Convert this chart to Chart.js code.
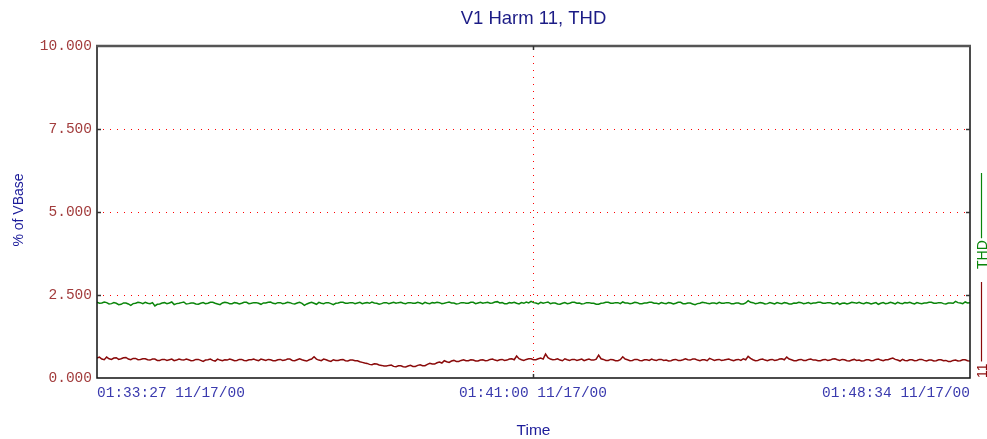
<!DOCTYPE html>
<html><head><meta charset="utf-8">
<script src="https://cdn.jsdelivr.net/npm/chart.js@4"></script>
<style>html,body{margin:0;padding:0;background:#fff;overflow:hidden}#wrap{width:987px;height:439px;position:relative}</style>
</head><body><div id="wrap"><canvas id="c" width="987" height="439"></canvas></div>
<script>
const chartTitle = "V1 Harm 11, THD";
const yAxisTitle = "% of VBase";
const xAxisTitle = "Time";
const yTicks = [0, 2.5, 5, 7.5, 10];
const xTickSeconds = [0, 453, 907];
const xTickLabels = ["01:33:27 11/17/00", "01:41:00 11/17/00", "01:48:34 11/17/00"];
const seriesNames = ["THD", "11"];
const spanSeconds = 907;
const thdValues = [
2.28,2.25,2.26,2.29,2.27,2.23,2.24,2.27,2.25,2.21,2.22,2.26,2.26,2.23,2.19,2.24,2.25,2.28,2.27,2.24,
2.28,2.25,2.24,2.27,2.17,2.22,2.23,2.26,2.27,2.24,2.26,2.29,2.21,2.24,2.25,2.27,2.29,2.23,2.24,2.26,
2.26,2.23,2.22,2.25,2.27,2.24,2.25,2.28,2.28,2.25,2.23,2.21,2.26,2.28,2.27,2.24,2.24,2.27,2.26,2.23,
2.25,2.28,2.28,2.24,2.25,2.27,2.27,2.25,2.22,2.26,2.26,2.28,2.29,2.25,2.24,2.27,2.27,2.24,2.25,2.28,
2.27,2.24,2.23,2.26,2.28,2.25,2.19,2.23,2.26,2.28,2.25,2.22,2.28,2.25,2.24,2.27,2.27,2.24,2.21,2.25,
2.26,2.28,2.28,2.25,2.25,2.27,2.27,2.24,2.26,2.28,2.24,2.26,2.27,2.25,2.29,2.26,2.25,2.22,2.24,2.27,
2.27,2.24,2.26,2.28,2.25,2.27,2.28,2.25,2.24,2.27,2.27,2.25,2.25,2.28,2.26,2.23,2.28,2.25,2.24,2.27,
2.26,2.28,2.27,2.24,2.25,2.27,2.29,2.26,2.26,2.23,2.24,2.27,2.27,2.25,2.25,2.28,2.28,2.24,2.26,2.28,
2.25,2.27,2.28,2.25,2.26,2.29,2.30,2.26,2.27,2.24,2.24,2.27,2.26,2.28,2.25,2.23,2.27,2.25,2.29,2.26,
2.31,2.27,2.26,2.23,2.28,2.25,2.27,2.29,2.24,2.26,2.26,2.23,2.22,2.25,2.27,2.24,2.25,2.28,2.28,2.25,
2.26,2.23,2.24,2.27,2.27,2.25,2.25,2.22,2.22,2.25,2.26,2.28,2.28,2.25,2.25,2.27,2.27,2.24,2.29,2.26,
2.26,2.24,2.25,2.28,2.27,2.24,2.24,2.26,2.26,2.28,2.28,2.25,2.25,2.23,2.27,2.25,2.24,2.27,2.26,2.23,
2.25,2.28,2.28,2.24,2.24,2.26,2.26,2.23,2.21,2.24,2.25,2.28,2.27,2.25,2.24,2.26,2.26,2.24,2.28,2.25,
2.25,2.27,2.27,2.24,2.24,2.26,2.26,2.23,2.23,2.26,2.33,2.28,2.27,2.24,2.25,2.27,2.26,2.23,2.24,2.27,
2.25,2.23,2.27,2.25,2.24,2.27,2.26,2.23,2.23,2.26,2.25,2.28,2.27,2.24,2.25,2.27,2.24,2.26,2.26,2.28,
2.28,2.25,2.25,2.27,2.27,2.24,2.24,2.27,2.22,2.25,2.26,2.23,2.25,2.28,2.27,2.25,2.28,2.25,2.24,2.27,
2.26,2.23,2.25,2.27,2.22,2.25,2.27,2.24,2.25,2.28,2.26,2.23,2.28,2.25,2.24,2.27,2.26,2.28,2.25,2.23,
2.27,2.25,2.24,2.26,2.26,2.28,2.28,2.25,2.25,2.27,2.27,2.24,2.23,2.26,2.26,2.25,2.31,2.27,2.26,2.24,
2.29,2.26,2.27
];
const harm11Values = [
0.60,0.63,0.57,0.55,0.63,0.58,0.56,0.60,0.61,0.56,0.58,0.61,0.62,0.57,0.55,0.59,0.59,0.55,0.56,0.58,
0.58,0.55,0.54,0.57,0.57,0.53,0.53,0.56,0.56,0.53,0.55,0.57,0.52,0.54,0.57,0.55,0.54,0.57,0.55,0.52,
0.53,0.56,0.56,0.53,0.50,0.54,0.55,0.57,0.53,0.51,0.57,0.54,0.52,0.55,0.54,0.57,0.55,0.52,0.53,0.56,
0.56,0.53,0.52,0.55,0.55,0.57,0.54,0.52,0.57,0.55,0.53,0.56,0.55,0.52,0.52,0.55,0.56,0.53,0.54,0.57,
0.57,0.53,0.52,0.55,0.58,0.55,0.53,0.51,0.55,0.57,0.64,0.57,0.54,0.52,0.57,0.55,0.52,0.50,0.55,0.53,
0.53,0.55,0.56,0.52,0.51,0.54,0.54,0.52,0.52,0.49,0.47,0.45,0.44,0.41,0.40,0.43,0.42,0.39,0.38,0.36,
0.36,0.38,0.39,0.35,0.34,0.37,0.37,0.34,0.33,0.36,0.38,0.35,0.35,0.38,0.40,0.37,0.37,0.41,0.44,0.42,
0.42,0.46,0.48,0.45,0.52,0.49,0.47,0.51,0.53,0.50,0.50,0.53,0.55,0.52,0.52,0.55,0.54,0.51,0.51,0.54,
0.55,0.52,0.53,0.56,0.57,0.54,0.52,0.55,0.56,0.53,0.54,0.57,0.58,0.55,0.66,0.58,0.55,0.53,0.56,0.58,
0.58,0.55,0.55,0.58,0.60,0.57,0.72,0.61,0.57,0.55,0.56,0.58,0.54,0.52,0.58,0.55,0.53,0.56,0.56,0.53,
0.55,0.57,0.52,0.55,0.57,0.54,0.54,0.57,0.69,0.58,0.56,0.53,0.53,0.56,0.55,0.52,0.52,0.55,0.64,0.57,
0.55,0.52,0.53,0.56,0.56,0.53,0.52,0.55,0.55,0.53,0.57,0.54,0.53,0.56,0.56,0.53,0.54,0.51,0.52,0.55,
0.56,0.53,0.53,0.55,0.58,0.55,0.54,0.57,0.57,0.54,0.52,0.55,0.55,0.52,0.59,0.56,0.53,0.55,0.56,0.53,
0.54,0.56,0.57,0.54,0.52,0.55,0.56,0.53,0.58,0.55,0.65,0.59,0.55,0.52,0.53,0.56,0.57,0.54,0.52,0.55,
0.56,0.53,0.54,0.57,0.58,0.55,0.63,0.57,0.55,0.52,0.52,0.55,0.56,0.53,0.53,0.56,0.57,0.54,0.54,0.52,
0.52,0.55,0.56,0.53,0.54,0.57,0.58,0.55,0.53,0.56,0.55,0.52,0.51,0.54,0.56,0.53,0.54,0.51,0.52,0.55,
0.55,0.52,0.53,0.56,0.57,0.54,0.52,0.55,0.55,0.58,0.60,0.56,0.54,0.51,0.56,0.53,0.52,0.55,0.55,0.52,
0.53,0.56,0.56,0.53,0.51,0.54,0.54,0.51,0.52,0.55,0.55,0.52,0.53,0.50,0.50,0.53,0.54,0.51,0.52,0.55,
0.55,0.52,0.51
];
const seriesColors = ["#0a850a", "#8a0a0a"];

function toPoints(vals){
  const n = vals.length - 1;
  return vals.map((v,i)=>({x: i*spanSeconds/n, y: v}));
}

const MONO = '"Liberation Mono", "Courier New", monospace';
const SANS = '"Liberation Sans", Arial, sans-serif';

const decor = {
  id: 'decor',
  beforeDatasetsDraw(chart){
    const {ctx, chartArea:a, scales:{x,y}} = chart;
    ctx.save();
    ctx.fillStyle = '#ff0000';
    const gap = 7;
    yTicks.forEach(v=>{
      if (v > yTicks[0] && v < yTicks[yTicks.length-1]) {
        const py = Math.round(y.getPixelForValue(v));
        for (let px = Math.round(a.left) + 6; px < a.right - 3; px += gap) ctx.fillRect(px, py, 1, 1);
      }
    });
    xTickSeconds.forEach(v=>{
      if (v > 0 && v < spanSeconds) {
        const px = Math.round(x.getPixelForValue(v));
        for (let py = Math.round(a.top) + 3; py < a.bottom - 2; py += gap) ctx.fillRect(px, py, 1, 1);
      }
    });
    ctx.restore();
  },
  afterDatasetsDraw(chart){
    const {ctx, chartArea:a, scales:{x,y}} = chart;
    ctx.save();
    ctx.setLineDash([]);
    ctx.strokeStyle = '#111'; ctx.lineWidth = 1.5;
    ctx.beginPath(); ctx.moveTo(a.left, a.top); ctx.lineTo(a.left, a.bottom); ctx.lineTo(a.right, a.bottom); ctx.lineTo(a.right, a.top); ctx.stroke();
    ctx.strokeStyle = '#555'; ctx.lineWidth = 2.5;
    ctx.beginPath(); ctx.moveTo(a.left - 1, a.top); ctx.lineTo(a.right + 1, a.top); ctx.stroke();
    ctx.strokeStyle = '#333'; ctx.lineWidth = 1.5;
    yTicks.forEach(v=>{
      if (v > yTicks[0] && v < yTicks[yTicks.length-1]) {
        const py = Math.round(y.getPixelForValue(v)) + 0.5;
        ctx.beginPath(); ctx.moveTo(a.left, py); ctx.lineTo(a.left + 4, py); ctx.stroke();
        ctx.beginPath(); ctx.moveTo(a.right - 4, py); ctx.lineTo(a.right, py); ctx.stroke();
      }
    });
    xTickSeconds.forEach(v=>{
      if (v > 0 && v < spanSeconds) {
        const px = Math.round(x.getPixelForValue(v)) + 0.5;
        ctx.beginPath(); ctx.moveTo(px, a.bottom - 4); ctx.lineTo(px, a.bottom); ctx.stroke();
        ctx.beginPath(); ctx.moveTo(px, a.top); ctx.lineTo(px, a.top + 4); ctx.stroke();
      }
    });
    ctx.fillStyle = '#1c1c86';
    ctx.font = '18.5px ' + SANS; ctx.textAlign = 'center'; ctx.textBaseline = 'alphabetic';
    ctx.fillText(chartTitle, (a.left + a.right)/2, 24);
    ctx.fillStyle = '#1c1c9a';
    ctx.font = '15.5px ' + SANS;
    ctx.fillText(xAxisTitle, (a.left + a.right)/2, 435);
    ctx.save();
    ctx.translate(23, 210); ctx.rotate(-Math.PI/2);
    ctx.font = '14px ' + SANS; ctx.textAlign = 'center';
    ctx.fillText(yAxisTitle, 0, 0);
    ctx.restore();
    const legend = [
      {name: seriesNames[0], color: seriesColors[0], start: 269, lineEnd: 173},
      {name: seriesNames[1], color: seriesColors[1], start: 378, lineEnd: 282}
    ];
    legend.forEach(l=>{
      ctx.save();
      ctx.translate(987, l.start); ctx.rotate(-Math.PI/2);
      ctx.font = '14px ' + SANS; ctx.textAlign = 'left'; ctx.textBaseline = 'alphabetic';
      ctx.fillStyle = l.color;
      ctx.fillText(l.name, 0, 0);
      const w = ctx.measureText(l.name).width;
      ctx.strokeStyle = l.color; ctx.lineWidth = 1.2;
      ctx.beginPath(); ctx.moveTo(w + 2, -5.5); ctx.lineTo(l.start - l.lineEnd, -5.5); ctx.stroke();
      ctx.restore();
    });
    ctx.restore();
  }
};

new Chart(document.getElementById('c'), {
  type: 'line',
  data: {
    datasets: [
      {label: seriesNames[0], data: toPoints(thdValues), borderColor: seriesColors[0]},
      {label: seriesNames[1], data: toPoints(harm11Values), borderColor: seriesColors[1]}
    ]
  },
  options: {
    animation: false,
    responsive: false,
    devicePixelRatio: 1,
    layout: {padding: {left: 0, right: 17, top: 46, bottom: 0}},
    plugins: {legend: {display: false}, title: {display: false}, tooltip: {enabled: false}},
    elements: {point: {radius: 0}, line: {borderWidth: 1.5, tension: 0}},
    scales: {
      x: {
        type: 'linear', min: 0, max: spanSeconds,
        afterBuildTicks: s => { s.ticks = xTickSeconds.map(v => ({value: v})); },
        ticks: {
          autoSkip: false, maxRotation: 0, minRotation: 0, align: 'inner', padding: 6,
          color: '#3a3aae', font: {family: MONO, size: 14.5},
          callback: v => { const i = xTickSeconds.indexOf(v); return i >= 0 ? xTickLabels[i] : ''; }
        },
        grid: {display: false, drawTicks: false}, border: {display: false},
        afterFit: s => { s.height = 61; }
      },
      y: {
        min: 0, max: 10,
        afterBuildTicks: s => { s.ticks = yTicks.map(v => ({value: v})); },
        ticks: {padding: 5, color: '#a23c3c', font: {family: MONO, size: 14.5}, callback: v => Number(v).toFixed(3)},
        grid: {display: false, drawTicks: false}, border: {display: false},
        afterFit: s => { s.width = 97; }
      }
    }
  },
  plugins: [decor]
});
</script></body></html>
